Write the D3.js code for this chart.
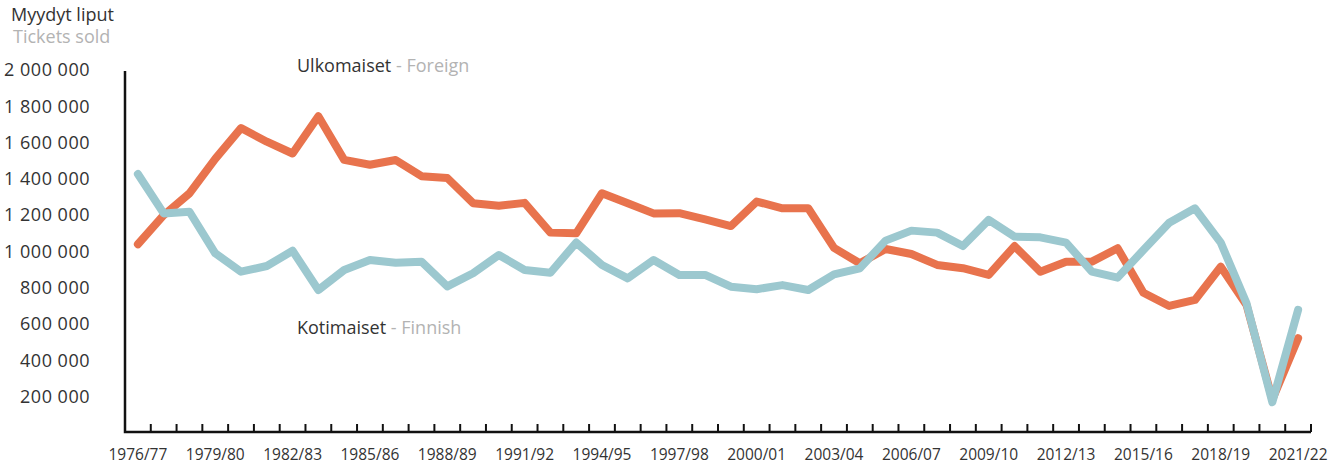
<!DOCTYPE html>
<html>
<head>
<meta charset="utf-8">
<script src="https://cdn.jsdelivr.net/npm/d3@7"></script>
<style>
  body { margin: 0; background: #fff; }
  svg { font-family: "Open Sans", Lato, sans-serif; }
</style>
</head>
<body>
<svg id="chart"></svg>
<script>
// seasons 1976/77 .. 2021/22
const seasons = d3.range(1976, 2022).map(y => y + "/" + String((y + 1) % 100).padStart(2, "0"));

// Ulkomaiset - Foreign
const foreign = [
  1040000, 1200000, 1320000, 1510000, 1680000, 1605000, 1540000, 1745000, 1505000, 1478000,
  1504000, 1415000, 1405000, 1266000, 1252000, 1268000, 1104000, 1100000, 1321000, 1266000,
  1210000, 1211000, 1177000, 1140000, 1275000, 1238000, 1238000, 1020000, 935000, 1014000,
  986000, 926000, 908000, 871000, 1030000, 889000, 944000, 944000, 1018000, 773000,
  700000, 733000, 916000, 705000, 185000, 522000
];

// Kotimaiset - Finnish
const finnish = [
  1427000, 1210000, 1219000, 990000, 889000, 920000, 1004000, 788000, 898000, 953000,
  938000, 944000, 808000, 880000, 981000, 898000, 883000, 1049000, 926000, 852000,
  953000, 871000, 871000, 806000, 792000, 815000, 788000, 874000, 907000, 1060000,
  1115000, 1104000, 1030000, 1174000, 1082000, 1078000, 1049000, 889000, 856000, 1008000,
  1159000, 1238000, 1049000, 714000, 170000, 678000
];

const yTicks = [200000, 400000, 600000, 800000, 1000000, 1200000, 1400000, 1600000, 1800000, 2000000];

const width = 1343, height = 464;
const plotLeft = 125, plotRight = 1311, plotTop = 70, plotBottom = 433;

const svg = d3.select("#chart")
    .attr("width", width)
    .attr("height", height);

const x = d3.scaleBand()
    .domain(seasons)
    .range([plotLeft, plotRight])
    .padding(0);

const y = d3.scaleLinear()
    .domain([0, 2000000])
    .range([plotBottom, plotTop]);

const fmt = d3.formatLocale({decimal: ",", thousands: " ", grouping: [3], currency: ["", ""]}).format(",d");

// y labels (no ticks)
svg.append("g")
    .attr("transform", `translate(90,0)`)
    .call(d3.axisLeft(y).tickValues(yTicks).tickSize(0).tickPadding(0).tickFormat(fmt))
    .call(g => g.select(".domain").remove())
    .selectAll("text")
        .attr("font-size", 18)
        .attr("font-family", "'Open Sans', Lato, sans-serif")
        .attr("letter-spacing", 0.5)
        .attr("fill", "#333");

// x ticks at band boundaries, pointing up
svg.append("g")
    .selectAll("line")
    .data(seasons)
    .join("line")
        .attr("x1", d => x(d) + x.bandwidth())
        .attr("x2", d => x(d) + x.bandwidth())
        .attr("y1", plotBottom - 1)
        .attr("y2", plotBottom - 9)
        .attr("stroke", "#111")
        .attr("stroke-width", 2);

// x labels every third season
svg.append("g")
    .selectAll("text")
    .data(seasons.filter((d, i) => i % 3 === 0))
    .join("text")
        .attr("x", d => x(d) + x.bandwidth() / 2)
        .attr("y", 460)
        .attr("text-anchor", "middle")
        .attr("font-size", 15.5)
        .attr("fill", "#333")
        .text(d => d);

// axis lines
svg.append("path")
    .attr("d", `M${plotLeft},${plotTop + 1}V${plotBottom - 1}H${plotRight}`)
    .attr("fill", "none")
    .attr("stroke", "#111")
    .attr("stroke-width", 2.5);

const line = d3.line()
    .x((d, i) => x(seasons[i]) + x.bandwidth() / 2)
    .y(d => y(d));

svg.append("path")
    .datum(foreign)
    .attr("d", line)
    .attr("fill", "none")
    .attr("stroke", "#e8734d")
    .attr("stroke-width", 8)
    .attr("stroke-linejoin", "round")
    .attr("stroke-linecap", "round");

svg.append("path")
    .datum(finnish)
    .attr("d", line)
    .attr("fill", "none")
    .attr("stroke", "#9cc8cf")
    .attr("stroke-width", 8)
    .attr("stroke-linejoin", "round")
    .attr("stroke-linecap", "round");

// title
svg.append("text").attr("x", 11).attr("y", 21).attr("font-size", 18).attr("fill", "#333").text("Myydyt liput");
svg.append("text").attr("x", 13).attr("y", 43).attr("font-size", 18).attr("fill", "#b3b3b3").text("Tickets sold");

// series labels
const lab1 = svg.append("text").attr("x", 297).attr("y", 72).attr("font-size", 18);
lab1.append("tspan").attr("fill", "#333").text("Ulkomaiset");
lab1.append("tspan").attr("fill", "#b3b3b3").text(" - Foreign");

const lab2 = svg.append("text").attr("x", 297).attr("y", 334).attr("font-size", 18);
lab2.append("tspan").attr("fill", "#333").text("Kotimaiset");
lab2.append("tspan").attr("fill", "#b3b3b3").text(" - Finnish");
</script>
</body>
</html>
